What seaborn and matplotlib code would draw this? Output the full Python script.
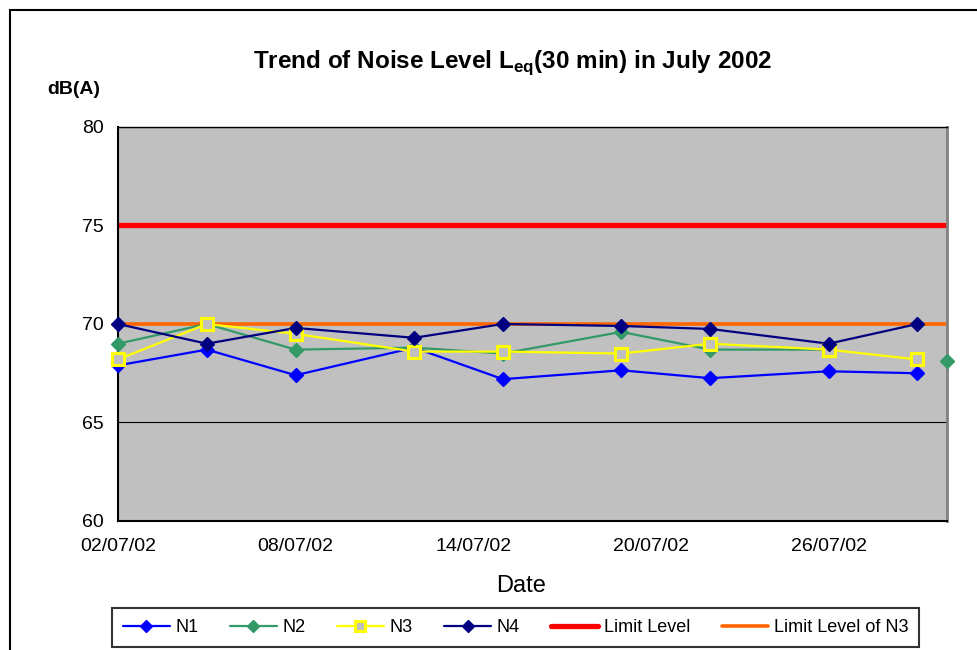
import pandas as pd
import numpy as np
import matplotlib.pyplot as plt
import matplotlib.dates as mdates
from matplotlib.lines import Line2D
import seaborn as sns

# Data (dB(A), Leq 30 min)
dates = pd.to_datetime(['2002-07-02', '2002-07-05', '2002-07-08', '2002-07-12', '2002-07-15',
                        '2002-07-19', '2002-07-22', '2002-07-26', '2002-07-29', '2002-07-30'])
n1 = [67.9, 68.7, 67.4, 68.8, 67.2, 67.65, 67.25, 67.6, 67.5, np.nan]
n2 = [69.0, 70.0, 68.7, 68.8, 68.5, 69.6, 68.7, 68.7, np.nan, 68.1]
n3 = [68.2, 70.0, 69.5, 68.6, 68.6, 68.5, 69.0, 68.7, 68.2, np.nan]
n4 = [70.0, 69.0, 69.8, 69.3, 70.0, 69.9, 69.75, 69.0, 70.0, np.nan]
limit_level = 75
limit_level_n3 = 70

tick_dates = pd.to_datetime(['2002-07-02', '2002-07-08', '2002-07-14', '2002-07-20', '2002-07-26'])
x_range = pd.to_datetime(['2002-07-02', '2002-07-30'])
y_ticks = [60, 65, 70, 75, 80]

sns.set_style('white')
plt.rcParams['font.family'] = ['Liberation Sans', 'DejaVu Sans']
plt.rcParams['mathtext.fontset'] = 'custom'
plt.rcParams['mathtext.rm'] = 'Liberation Sans'
plt.rcParams['mathtext.bf'] = 'Liberation Sans:bold'
for key in ['text.color', 'axes.labelcolor', 'xtick.color', 'ytick.color']:
    plt.rcParams[key] = 'black'

df = pd.DataFrame({'date': dates, 'N1': n1, 'N2': n2, 'N3': n3, 'N4': n4})

fig = plt.figure(figsize=(9.77, 6.5), dpi=100)
ax = fig.add_axes([118 / 977, 1 - 521 / 650, (947 - 118) / 977, (521 - 127) / 650])
ax.set_facecolor('#C0C0C0')

# gridlines
for y in y_ticks[1:]:
    ax.axhline(y, color='black', lw=0.8, zorder=1)

# limit lines
ax.axhline(limit_level, color='#FF0000', lw=3.8, zorder=2)
ax.axhline(limit_level_n3, color='#FF6600', lw=2.6, zorder=2)

styles = {
    'N1': dict(color='#0000FF', marker='D', ms=7, mfc='#0000FF', mec='#0000FF'),
    'N2': dict(color='#339966', marker='D', ms=7, mfc='#339966', mec='#339966'),
    'N3': dict(color='#FFFF00', marker='s', ms=8, mfc='#C0C0C0', mec='#FFFF00', mew=2.2),
    'N4': dict(color='#000080', marker='D', ms=7, mfc='#000080', mec='#000080'),
}

for name, st in styles.items():
    sub = df[['date', name]].copy()
    # break the line where values are missing
    sub['seg'] = sub[name].isna().cumsum()
    sub = sub.dropna()
    for _, part in sub.groupby('seg'):
        if len(part) > 1:
            sns.lineplot(data=part, x='date', y=name, ax=ax, color=st['color'], lw=1.6,
                         estimator=None, sort=False, zorder=3, legend=False)
    ax.plot(sub['date'], sub[name], ls='none', marker=st['marker'], ms=st['ms'],
            mfc=st['mfc'], mec=st['mec'], mew=st.get('mew', 1), zorder=4, clip_on=False)

ax.set_xlim(x_range[0], x_range[1])
ax.set_ylim(60, 80)
ax.set_yticks(y_ticks)
ax.set_xticks(tick_dates)
ax.xaxis.set_major_formatter(mdates.DateFormatter('%d/%m/%y'))
ax.tick_params(axis='both', direction='out', length=6, width=1, color='black',
               labelsize=14, pad=4)
ax.tick_params(axis='x', pad=6)
ax.set_xlabel('Date', fontsize=17)
ax.xaxis.set_label_coords((521 - 118) / 829, (521 - 586) / 394)
ax.xaxis.label.set_va('center')
ax.set_ylabel('')

for side in ['left', 'bottom']:
    ax.spines[side].set_color('black')
    ax.spines[side].set_linewidth(1.5)
ax.spines['right'].set_color('#808080')
ax.spines['right'].set_linewidth(2)
ax.spines['top'].set_color('black')
ax.spines['top'].set_linewidth(1)

fig.text(513 / 977, 1 - 63 / 650, r'Trend of Noise Level L$_{\mathbf{eq}}$(30 min) in July 2002',
         ha='center', va='center', fontsize=17.5, weight='bold')
fig.text(74 / 977, 1 - 89 / 650, 'dB(A)', ha='center', va='center', fontsize=14, weight='bold')

# legend
handles = []
for name, st in styles.items():
    handles.append(Line2D([], [], color=st['color'], lw=1.6, marker=st['marker'], ms=st['ms'] - 1,
                          mfc=st['mfc'], mec=st['mec'], mew=st.get('mew', 1)))
handles.append(Line2D([], [], color='#FF0000', lw=3.8))
handles.append(Line2D([], [], color='#FF6600', lw=2.6))
labels = ['N1', 'N2', 'N3', 'N4', 'Limit Level', 'Limit Level of N3']
leg = fig.legend(handles, labels, loc='upper left', bbox_to_anchor=(112 / 977, 1 - 608 / 650),
                 ncol=6, frameon=True, fancybox=False, edgecolor='black', fontsize=13,
                 handlelength=2.6, columnspacing=1.75, handletextpad=0.3, borderaxespad=0,
                 borderpad=0.6)
leg.get_frame().set_linewidth(1.5)

# outer chart border
fig.add_artist(plt.Rectangle((10 / 977, -0.1), 1.2, 1 - 10 / 650 + 0.1, transform=fig.transFigure,
                             fill=False, lw=1.5, ec='black'))

fig.savefig('out.png', dpi=100)
